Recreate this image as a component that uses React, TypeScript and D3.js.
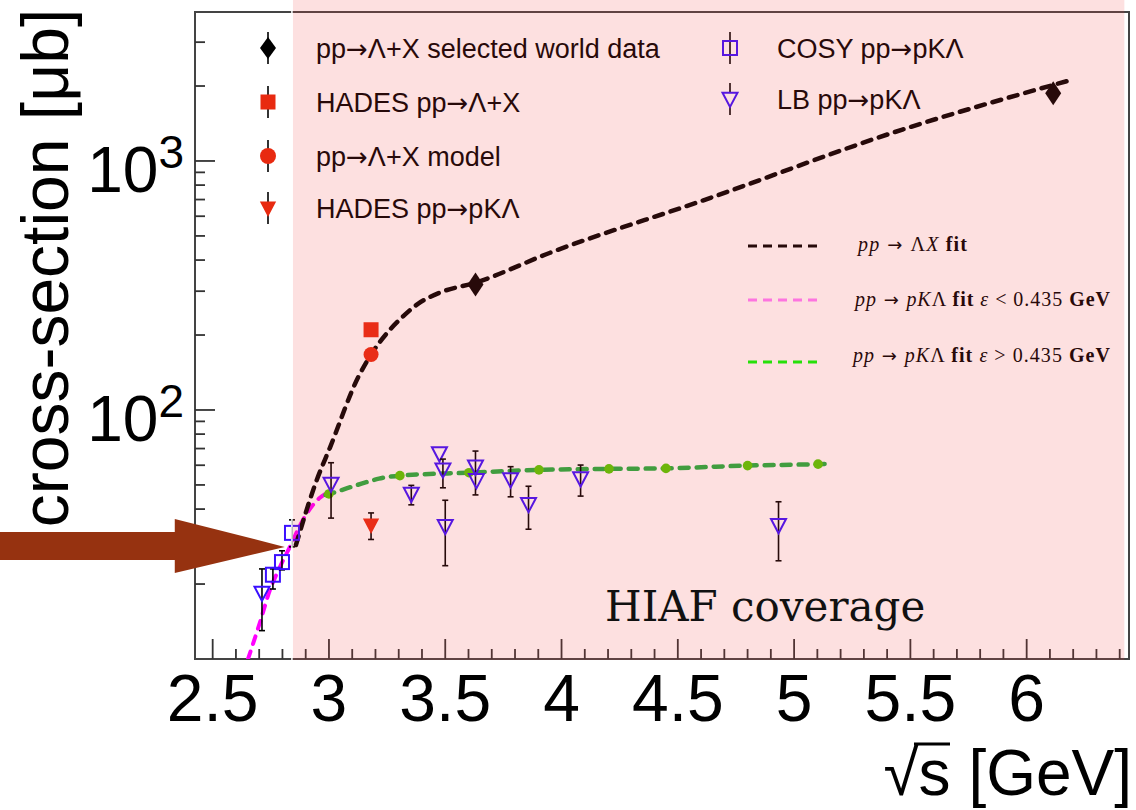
import React from "react";
import * as d3 from "d3";

// pp -> Lambda + X selected world data
const worldSqrtS = [3.63, 6.114];
const worldSigma = [319, 1870];

// HADES pp -> Lambda + X, model, HADES pp -> pK Lambda
const hadesSqrtS = [3.181];
const hadesLXSigma = [210];
const modelSigma = [167];
const hadesPKLSigma = [34.5];
const hadesPKLLo = [30.2];
const hadesPKLHi = [38.6];

// COSY pp -> pK Lambda
const cosySqrtS = [2.759, 2.798, 2.841];
const cosySigma = [21.8, 24.5, 32.1];
const cosyLo = [19.1, 22.8, 28.2];
const cosyHi = [23.0, 27.2, 36.2];

// LB pp -> pK Lambda
const lbSqrtS = [2.712, 3.009, 3.354, 3.475, 3.49, 3.5, 3.63, 3.634, 3.781, 3.858, 4.082, 4.933];
const lbSigma = [18.4, 50.4, 45.9, 66.8, 57.5, 34.1, 59.1, 52.1, 52.5, 41.8, 53.0, 34.4];
const lbLo = [13.0, 36.8, 41.6, 66.8, 48.7, 23.7, 45.6, 52.1, 44.8, 33.2, 45.1, 24.8];
const lbHi = [23.0, 61.4, 49.8, 66.8, 63.5, 43.4, 68.4, 52.1, 59.2, 49.4, 60.1, 42.8];

// fits
const fitLXSqrtS = [2.858, 2.948, 3.004, 3.125, 3.181, 3.262, 3.305, 3.378, 3.477, 3.632, 3.951, 4.6, 5.469, 6.187];
const fitLXSigma = [28.7, 52.5, 70.5, 135, 167, 210, 231, 265, 296, 325, 428, 690, 1340, 2110];
const fitLowSqrtS = [2.652, 2.703, 2.746, 2.789, 2.832, 2.888, 2.961, 2.985];
const fitLowSigma = [10, 14.0, 18.9, 23.4, 28.2, 36.2, 44.4, 46];
const fitHighSqrtS = [2.985, 3.0, 3.14, 3.215, 3.305, 3.602, 3.903, 4.204, 4.449, 4.8, 5.103, 5.155];
const fitHighSigma = [45.6, 46, 50.6, 53.0, 54.5, 56, 57.5, 58, 58.3, 59.8, 60.6, 60.8];
const fitHighDotsX = [3.0, 3.305, 3.602, 3.903, 4.204, 4.449, 4.8, 5.103];
const fitHighDotsY = [46, 54.5, 56, 57.5, 58, 58.3, 59.8, 60.6];

// HIAF band and arrow
const hiafRange = [2.845, 6.42];
const arrowTip = [2.81, 28.2];

// axes
const xDomain = [2.424, 6.44];
const yDomain = [10, 3965];
const xMajor = [2.5, 3, 3.5, 4, 4.5, 5, 5.5, 6];
const yMajorExp = [2, 3];

// legend entries: [before arrow, after arrow]
const legendLeft = [
  ["pp", "Λ+X selected world data"],
  ["HADES pp", "Λ+X"],
  ["pp", "Λ+X model"],
  ["HADES pp", "pKΛ"],
];
const legendRight = [
  ["COSY pp", "pKΛ"],
  ["LB pp", "pKΛ"],
];

const BLUE = "#3a10ff";
const RED = "#e82a10";
const SANS = "'Liberation Sans', Arial, sans-serif";
const SERIF = "'Liberation Serif', 'Times New Roman', serif";
const ARROW_FONT = "'DejaVu Sans', sans-serif";

const x = d3.scaleLinear().domain(xDomain).range([195, 1129]);
const y = d3.scaleLog().domain(yDomain).range([659, 12]);

const Diamond = ({ cx, cy, w = 8, h = 12 }) => (
  <path d={`M${cx},${cy - h}L${cx + w},${cy}L${cx},${cy + h}L${cx - w},${cy}Z`} fill="#000" />
);
const TriDown = ({ cx, cy, fill, stroke, s = 7.5 }) => (
  <path
    d={`M${cx - s},${cy - s * 0.85}L${cx + s},${cy - s * 0.85}L${cx},${cy + s * 1.05}Z`}
    fill={fill}
    stroke={stroke}
    strokeWidth={2}
  />
);
const ErrBar = ({ cx, hi, lo }) => (
  <g stroke="#000" strokeWidth={1.6}>
    <line x1={cx} x2={cx} y1={hi} y2={lo} />
    <line x1={cx - 3} x2={cx + 3} y1={hi} y2={hi} />
    <line x1={cx - 3} x2={cx + 3} y1={lo} y2={lo} />
  </g>
);

const App = () => {
  const line = d3
    .line<[number, number]>()
    .x(d => x(d[0]))
    .y(d => y(d[1]))
    .curve(d3.curveMonotoneX);

  const fitLX = line(fitLXSqrtS.map((s, i) => [s, fitLXSigma[i]]));
  const fitLow = line(fitLowSqrtS.map((s, i) => [s, fitLowSigma[i]]));
  const fitHigh = line(fitHighSqrtS.map((s, i) => [s, fitHighSigma[i]]));

  const xMinor = d3.range(25, 65).map(v => v / 10).filter(v => x(v) <= 1129);
  const yMinor = [2, 3, 4, 5, 6, 7, 8, 9]
    .flatMap(m => [m * 10, m * 100, m * 1000])
    .filter(v => v <= yDomain[1]);

  const ax = x(arrowTip[0]);
  const ay = y(arrowTip[1]);

  const fitLegendY = [246, 300, 362];

  return (
    <svg width={1136} height={810} style={{ position: "absolute", left: 0, top: 0, background: "#fff" }}>
      <defs>
        <clipPath id="frame">
          <rect x={195} y={12} width={934} height={647} />
        </clipPath>
      </defs>

      {/* frame */}
      <rect x={195} y={12} width={934} height={647} fill="none" stroke="#444" strokeWidth={2} />

      {/* ticks */}
      <g stroke="#333" strokeWidth={1.8}>
        {xMinor.map(v => (
          <line key={"xm" + v} x1={x(v)} x2={x(v)} y1={659} y2={xMajor.includes(Math.round(v * 10) / 10) ? 639 : 649} />
        ))}
        {yMinor.map(v => (
          <line key={"ym" + v} x1={195} x2={205} y1={y(v)} y2={y(v)} />
        ))}
        {yMajorExp.map(e => (
          <line key={"yM" + e} x1={195} x2={215} y1={y(Math.pow(10, e))} y2={y(Math.pow(10, e))} />
        ))}
      </g>

      {/* fits */}
      <g clipPath="url(#frame)" fill="none" strokeLinecap="round">
        <path d={fitLow} stroke="#ff00ff" strokeWidth={4} strokeDasharray="8 8" />
        <path d={fitLX} stroke="#000" strokeWidth={4.5} strokeDasharray="9 8" />
        <path d={fitHigh} stroke="#20b040" strokeWidth={4.5} strokeDasharray="9 8" />
      </g>
      {fitHighDotsX.map((s, i) => (
        <circle key={"gd" + i} cx={x(s)} cy={y(fitHighDotsY[i])} r={4.8} fill="#55cc00" />
      ))}

      {/* COSY */}
      {cosySqrtS.map((s, i) => (
        <g key={"c" + i}>
          <ErrBar cx={x(s)} hi={y(cosyHi[i])} lo={y(cosyLo[i])} />
          <rect x={x(s) - 7} y={y(cosySigma[i]) - 7} width={14} height={14} fill="none" stroke={BLUE} strokeWidth={2} />
        </g>
      ))}

      {/* LB */}
      {lbSqrtS.map((s, i) => (
        <g key={"lb" + i}>
          {lbHi[i] !== lbLo[i] && <ErrBar cx={x(s)} hi={y(lbHi[i])} lo={y(lbLo[i])} />}
          <TriDown cx={x(s)} cy={y(lbSigma[i])} fill="none" stroke={BLUE} />
        </g>
      ))}

      {/* HADES and model */}
      {hadesSqrtS.map((s, i) => (
        <g key={"h" + i}>
          <ErrBar cx={x(s)} hi={y(hadesPKLHi[i])} lo={y(hadesPKLLo[i])} />
          <TriDown cx={x(s)} cy={y(hadesPKLSigma[i])} fill={RED} stroke={RED} s={6.5} />
          <rect x={x(s) - 7.5} y={y(hadesLXSigma[i]) - 7.5} width={15} height={15} fill={RED} />
          <circle cx={x(s)} cy={y(modelSigma[i])} r={7.5} fill={RED} />
        </g>
      ))}

      {/* world data */}
      {worldSqrtS.map((s, i) => (
        <Diamond key={"w" + i} cx={x(s)} cy={y(worldSigma[i])} />
      ))}

      {/* legend left */}
      {legendLeft.map((label, i) => {
        const cy = [48, 102, 156, 208][i];
        return (
          <g key={"ll" + i}>
            <line x1={268} x2={268} y1={cy - 16} y2={cy + 16} stroke="#000" strokeWidth={1.6} />
            {i === 0 && <Diamond cx={268} cy={cy} w={8} h={11} />}
            {i === 1 && <rect x={260.5} y={cy - 7.5} width={15} height={15} fill={RED} />}
            {i === 2 && <circle cx={268} cy={cy} r={8} fill={RED} />}
            {i === 3 && <TriDown cx={268} cy={cy} fill={RED} stroke={RED} s={6.5} />}
            <text x={316} y={cy + 10} fontFamily={SANS} fontSize={27} fill="#000">
              {label[0]}
              <tspan fontFamily={ARROW_FONT} fontSize={26}>→</tspan>
              {label[1]}
            </text>
          </g>
        );
      })}

      {/* legend right */}
      {legendRight.map((label, i) => {
        const cy = [48, 99][i];
        return (
          <g key={"lr" + i}>
            <line x1={730} x2={730} y1={cy - 16} y2={cy + 16} stroke="#000" strokeWidth={1.6} />
            {i === 0 ? (
              <rect x={723} y={cy - 7} width={14} height={14} fill="none" stroke={BLUE} strokeWidth={2} />
            ) : (
              <TriDown cx={730} cy={cy} fill="#fff" stroke={BLUE} />
            )}
            <text x={777} y={cy + 10} fontFamily={SANS} fontSize={27} fill="#000">
              {label[0]}
              <tspan fontFamily={ARROW_FONT} fontSize={26}>→</tspan>
              {label[1]}
            </text>
          </g>
        );
      })}

      {/* fit legend */}
      <g strokeWidth={3} strokeDasharray="9 6">
        <line x1={748} x2={818} y1={fitLegendY[0]} y2={fitLegendY[0]} stroke="#000" />
        <line x1={748} x2={818} y1={fitLegendY[1]} y2={fitLegendY[1]} stroke="#ff80ff" />
        <line x1={748} x2={818} y1={fitLegendY[2]} y2={fitLegendY[2]} stroke="#00ff00" />
      </g>
      <g fontFamily={SERIF} fontSize={20} fill="#000">
        <text x={858} y={251} textLength={109} lengthAdjust="spacing">
          <tspan fontStyle="italic">pp</tspan>
          <tspan fontFamily={ARROW_FONT} fontSize={18}> → </tspan>
          <tspan>Λ</tspan>
          <tspan fontStyle="italic">X</tspan>
          <tspan fontWeight="bold">  fit</tspan>
        </text>
        <text x={855} y={306} textLength={255} lengthAdjust="spacing">
          <tspan fontStyle="italic">pp</tspan>
          <tspan fontFamily={ARROW_FONT} fontSize={18}> → </tspan>
          <tspan fontStyle="italic">pK</tspan>
          <tspan>Λ  </tspan>
          <tspan fontWeight="bold">fit </tspan>
          <tspan fontStyle="italic">ε</tspan>
          <tspan> &lt; 0.435  </tspan>
          <tspan fontWeight="bold">GeV</tspan>
        </text>
        <text x={853} y={362} textLength={257} lengthAdjust="spacing">
          <tspan fontStyle="italic">pp</tspan>
          <tspan fontFamily={ARROW_FONT} fontSize={18}> → </tspan>
          <tspan fontStyle="italic">pK</tspan>
          <tspan>Λ  </tspan>
          <tspan fontWeight="bold">fit </tspan>
          <tspan fontStyle="italic">ε</tspan>
          <tspan> &gt; 0.435  </tspan>
          <tspan fontWeight="bold">GeV</tspan>
        </text>
      </g>

      {/* HIAF coverage band overlay */}
      <rect
        x={x(hiafRange[0])}
        y={0}
        width={x(hiafRange[1]) - x(hiafRange[0])}
        height={660}
        fill="rgb(240,60,60)"
        fillOpacity={0.16}
      />
      <line x1={x(hiafRange[0]) - 1} x2={x(hiafRange[0]) - 1} y1={0} y2={662} stroke="#fff" strokeWidth={1.5} />

      <text x={605} y={621} fontFamily="'DejaVu Serif', serif" fontSize={42} fill="#111">
        HIAF coverage
      </text>

      {/* arrow */}
      <path
        d={`M0,${ay - 15}L${ax - 110},${ay - 15}L${ax - 110},${ay - 28}L${ax},${ay}L${ax - 110},${ay + 26}L${ax - 110},${ay + 13}L0,${ay + 13}Z`}
        fill="#963210"
      />

      {/* tick labels */}
      <g fontFamily={SANS} fontSize={66} fill="#000" textAnchor="middle">
        {xMajor.map(v => (
          <text key={"xl" + v} x={x(v)} y={721}>
            {d3.format("~g")(v)}
          </text>
        ))}
      </g>
      <g fontFamily={SANS} fill="#000" textAnchor="end">
        {yMajorExp.map(e => (
          <text key={"yl" + e} x={184} y={y(Math.pow(10, e)) + 31} fontSize={64}>
            10
            <tspan dy={-24} fontSize={46}>
              {e}
            </tspan>
          </text>
        ))}
      </g>

      {/* axis titles */}
      <text
        transform="translate(68,268) rotate(-90)"
        fontFamily={SANS}
        fontSize={66}
        textAnchor="middle"
        fill="#000"
      >
        cross-section [μb]
      </text>
      <text x={1132} y={795} fontFamily={SANS} fontSize={64} textAnchor="end" fill="#000">
        √s [GeV]
      </text>
      <line x1={914} x2={950} y1={744} y2={744} stroke="#000" strokeWidth={3} />
    </svg>
  );
};

export default App;
